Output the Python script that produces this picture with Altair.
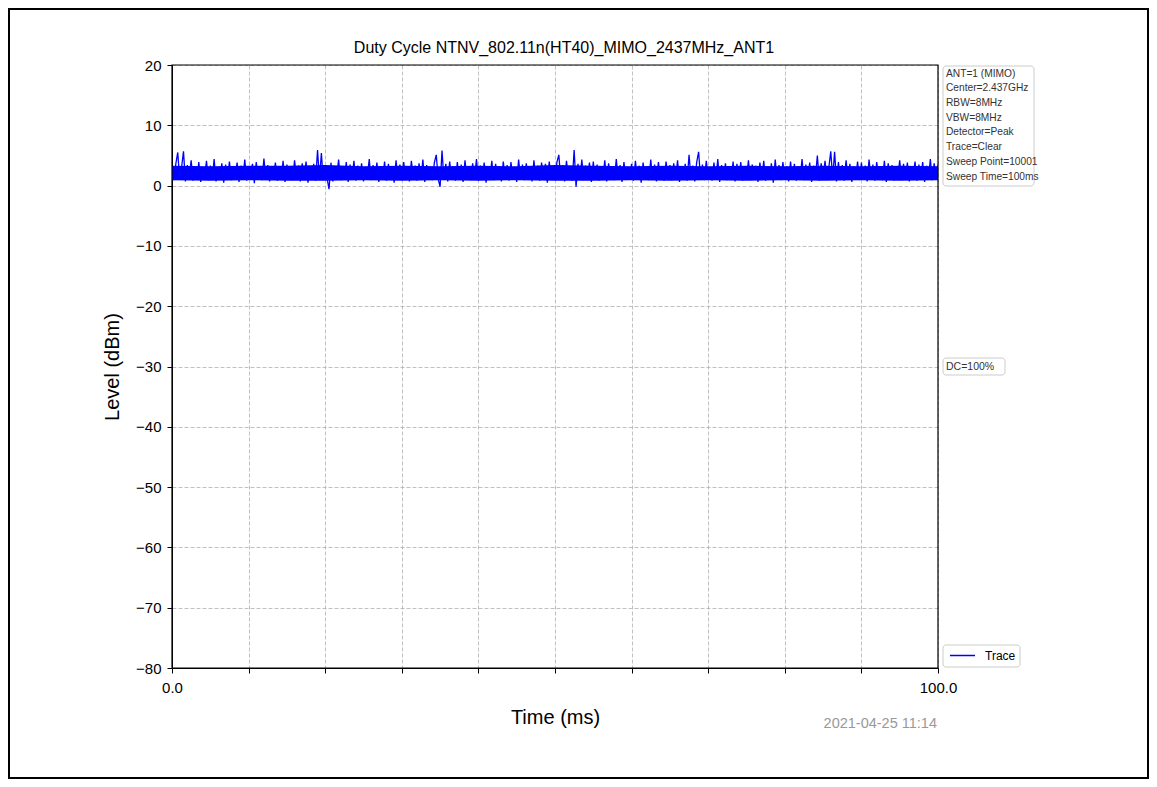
import altair as alt
import pandas as pd

# Trace samples (dBm), one every 0.25 ms from 0 to 100 ms
trace_level = [
    3.1, 0.9, 3.6, 5.5, 1.2, 3.0, 5.7, 0.7, 3.4, 1.5, 4.2, 0.8, 3.2, 1.1, 3.9, 0.6, 2.9, 1.4, 4.1, 0.9,
    3.3, 1.0, 4.4, 0.7, 3.0, 1.3, 3.7, 0.5, 3.5, 1.2, 4.0, 0.9, 2.8, 1.6, 3.8, 0.6, 3.3, 1.0, 4.3, 0.8,
    3.1, 1.2, 3.6, 0.4, 3.9, 1.1, 3.0, 0.9, 4.5, 1.3, 3.4, 0.7, 3.2, 1.5, 3.8, 0.8, 2.9, 1.0, 4.1, 0.6,
    3.5, 1.2, 3.0, 0.9, 4.2, 1.4, 3.3, 0.7, 3.7, 1.1, 4.0, 0.5, 3.1, 1.3, 3.6, 0.8, 5.9, 1.0, 5.4, 0.9,
    3.4, 1.2, -0.6, 3.8, 0.7, 3.2, 1.4, 4.3, 0.9, 3.0, 1.1, 3.9, 0.6, 3.5, 1.3, 4.1, 0.8, 3.3, 1.0, 3.7,
    0.7, 3.1, 1.5, 4.4, 0.9, 3.4, 1.2, 3.8, 0.6, 3.0, 1.1, 4.0, 0.8, 3.6, 1.3, 3.2, 0.5, 4.2, 1.0, 3.5,
    0.9, 3.9, 1.2, 3.1, 0.7, 4.1, 1.4, 3.3, 0.8, 3.7, 1.0, 4.3, 0.6, 3.4, 1.2, 3.0, 0.9, 3.8, 5.1, 1.1,
    -0.2, 5.8, 1.0, 3.6, 0.7, 4.0, 1.3, 3.2, 0.8, 3.9, 1.1, 3.5, 0.6, 4.2, 1.2, 3.1, 0.9, 3.7, 1.4, 4.4,
    0.8, 3.3, 1.0, 3.8, 0.5, 3.0, 1.2, 4.1, 0.9, 3.6, 1.3, 3.2, 0.7, 4.0, 1.1, 3.4, 0.8, 3.9, 1.0, 3.1,
    0.6, 4.3, 1.2, 3.5, 0.9, 3.7, 1.4, 3.0, 0.7, 4.2, 1.0, 3.3, 0.8, 3.8, 1.1, 3.6, 0.5, 4.0, 1.3, 3.2,
    0.9, 3.9, 5.1, 1.0, 3.4, 0.7, 4.1, 1.2, 3.1, 0.8, 5.9, -0.2, 3.6, 1.1, 4.3, 0.9, 3.3, 1.4, 3.8, 0.6,
    4.0, 1.0, 3.5, 0.8, 3.2, 1.3, 4.2, 0.7, 3.7, 1.1, 3.0, 0.9, 4.4, 1.2, 3.4, 0.6, 3.9, 1.0, 3.1, 1.4,
    3.6, 0.8, 4.1, 1.1, 3.3, 0.5, 3.8, 1.2, 3.0, 0.9, 4.3, 1.0, 3.5, 0.7, 3.9, 1.3, 3.2, 0.8, 4.0, 1.1,
    3.4, 0.9, 3.7, 1.2, 4.2, 0.6, 3.1, 1.0, 3.6, 0.8, 5.1, 1.3, 3.3, 0.7, 3.9, 5.6, 1.1, 3.5, 0.9, 4.1,
    1.2, 3.0, 0.8, 3.8, 1.0, 4.4, 0.6, 3.4, 1.3, 3.7, 0.9, 3.2, 1.1, 4.0, 0.7, 3.6, 1.2, 3.9, 0.8, 3.1,
    1.0, 4.2, 0.9, 3.5, 1.4, 3.3, 0.6, 3.8, 1.1, 4.1, 0.8, 3.0, 1.2, 3.7, 0.5, 4.3, 1.0, 3.4, 0.9, 3.9,
    1.3, 3.2, 0.7, 4.0, 1.1, 3.6, 0.8, 3.1, 1.2, 4.4, 0.9, 3.5, 1.0, 3.8, 0.6, 3.3, 1.4, 5.0, 0.8, 3.7,
    1.1, 4.1, 0.9, 3.0, 5.7, 1.2, 5.6, 0.7, 3.9, 1.0, 3.4, 0.8, 4.2, 1.3, 3.6, 0.6, 3.2, 1.1, 4.0, 0.9,
    3.8, 1.2, 3.3, 0.7, 4.3, 1.0, 3.5, 0.8, 3.9, 1.4, 3.1, 0.9, 4.1, 0.6, 3.7, 1.1, 3.4, 0.8, 3.0, 1.3,
    4.2, 0.9, 3.6, 1.0, 3.8, 0.7, 3.2, 1.2, 4.0, 0.8, 3.5, 1.1, 3.9, 0.6, 3.3, 1.0, 4.4, 0.9, 3.7, 1.2,
    3.4,
]
time_ms = [i * 0.25 for i in range(len(trace_level))]

# Dense core of the trace (the solid blue band), read every 5 ms
band_time = [0, 5, 10, 15, 20, 25, 30, 35, 40, 45, 50, 55, 60, 65, 70, 75, 80, 85, 90, 95, 100]
band_low = [0.9, 0.8, 0.9, 0.8, 0.8, 0.9, 0.8, 0.9, 0.8, 0.9, 0.8, 0.8, 0.9, 0.8, 0.9, 0.8, 0.9, 0.8, 0.9, 0.8, 0.9]
band_high = [3.3, 3.2, 3.3, 3.3, 3.4, 3.2, 3.3, 3.2, 3.3, 3.2, 3.4, 3.3, 3.2, 3.3, 3.2, 3.3, 3.2, 3.3, 3.2, 3.3, 3.2]

series_name = ["Trace"]

info_lines = [
    "ANT=1 (MIMO)",
    "Center=2.437GHz",
    "RBW=8MHz",
    "VBW=8MHz",
    "Detector=Peak",
    "Trace=Clear",
    "Sweep Point=10001",
    "Sweep Time=100ms",
]
dc_label = ["DC=100%"]
date_label = ["2021-04-25 11:14"]
chart_title = ["Duty Cycle NTNV_802.11n(HT40)_MIMO_2437MHz_ANT1"]
y_ticks = [-80, -70, -60, -50, -40, -30, -20, -10, 0, 10, 20]
x_ticks = [0, 10, 20, 30, 40, 50, 60, 70, 80, 90, 100]

FONT = "Liberation Sans"
BLUE = "#0000ff"
W, H = 766, 603

df = pd.DataFrame({"Time": time_ms, "Level": trace_level})
band_df = pd.DataFrame({"Time": band_time, "Low": band_low, "High": band_high})

x_scale = alt.Scale(domain=[0, 100], nice=False, zero=False)
y_scale = alt.Scale(domain=[-80, 20], nice=False, zero=False)
x_axis = alt.Axis(
    title="Time (ms)",
    values=x_ticks,
    labelExpr="datum.value == 0 || datum.value == 100 ? format(datum.value, '.1f') : ''",
    labelFlush=False,
    labelPadding=7,
    titlePadding=12,
)
y_axis = alt.Axis(
    title="Level (dBm)",
    values=y_ticks,
    labelPadding=6,
    titlePadding=13,
)

line = alt.Chart(df).mark_line(strokeWidth=1.3, color=BLUE, clip=True).encode(
    x=alt.X("Time:Q", scale=x_scale, axis=x_axis),
    y=alt.Y("Level:Q", scale=y_scale, axis=y_axis),
)

band = alt.Chart(band_df).mark_area(color=BLUE, opacity=1, clip=True).encode(
    x=alt.X("Time:Q", scale=x_scale, axis=x_axis),
    y=alt.Y("Low:Q", scale=y_scale, axis=y_axis),
    y2="High:Q",
)

trace_layer = alt.layer(line, band)

frame = alt.Chart(pd.DataFrame({"a": [0]})).mark_rect(
    fill=None, stroke="#000000", strokeWidth=1.2
).encode(x=alt.value(0), x2=alt.value(W), y=alt.value(0), y2=alt.value(H))

info_df = pd.DataFrame({"text": info_lines, "row": list(range(len(info_lines)))})
info_box = alt.Chart(pd.DataFrame({"a": [0]})).mark_rect(
    fill="#ffffff", stroke="#cccccc", strokeWidth=1, cornerRadius=3
).encode(x=alt.value(771), x2=alt.value(862), y=alt.value(1), y2=alt.value(121))
info_text = alt.Chart(info_df).mark_text(
    align="left", baseline="middle", font=FONT, fontSize=10.2, color="#333333"
).encode(
    x=alt.value(774),
    y=alt.Y("row:Q", scale=alt.Scale(domain=[0, 7], range=[8.5, 111.5]), axis=None),
    text="text:N",
)

dc_box = alt.Chart(pd.DataFrame({"a": [0]})).mark_rect(
    fill="#ffffff", stroke="#cccccc", strokeWidth=1, cornerRadius=3
).encode(x=alt.value(771), x2=alt.value(833), y=alt.value(293), y2=alt.value(310))
dc_text = alt.Chart(pd.DataFrame({"text": dc_label})).mark_text(
    align="left", baseline="middle", font=FONT, fontSize=10.5, color="#333333"
).encode(x=alt.value(774), y=alt.value(301.5), text="text:N")

# Legend (box, line sample, label)
legend_box = alt.Chart(pd.DataFrame({"a": [0]})).mark_rect(
    fill="#ffffff", stroke="#cccccc", strokeWidth=1, cornerRadius=3
).encode(x=alt.value(771), x2=alt.value(848), y=alt.value(580), y2=alt.value(602))
legend_line = alt.Chart(pd.DataFrame({"s": series_name})).mark_rule(
    color=BLUE, strokeWidth=1.5
).encode(x=alt.value(778), x2=alt.value(803), y=alt.value(590.5))
legend_text = alt.Chart(pd.DataFrame({"s": series_name})).mark_text(
    align="left", baseline="middle", font=FONT, fontSize=12, color="#000000"
).encode(x=alt.value(813), y=alt.value(591), text="s:N")

date_text = alt.Chart(pd.DataFrame({"text": date_label})).mark_text(
    align="right", baseline="middle", font=FONT, fontSize=14.5, color="#999999"
).encode(x=alt.value(765), y=alt.value(658.5), text="text:N")

title_text = alt.Chart(pd.DataFrame({"text": chart_title})).mark_text(
    align="center", baseline="middle", font=FONT, fontSize=16, color="#000000"
).encode(x=alt.value(W / 2 + 9), y=alt.value(-17), text="text:N")

border = alt.Chart(pd.DataFrame({"a": [0]})).mark_rect(
    fill=None, stroke="#000000", strokeWidth=2
).encode(x=alt.value(-163), x2=alt.value(976), y=alt.value(-56), y2=alt.value(713))

chart = alt.layer(
    trace_layer, frame, info_box, info_text, dc_box, dc_text,
    legend_box, legend_line, legend_text, date_text, title_text, border
).resolve_scale(y="independent").properties(
    width=W,
    height=H,
    background="#ffffff",
    autosize=alt.AutoSizeParams(type="none"),
    padding={"left": 164, "top": 57, "right": 211, "bottom": 111},
).configure_view(
    stroke=None
).configure_axis(
    labelFont=FONT,
    labelFontSize=15,
    labelColor="#000000",
    titleFont=FONT,
    titleFontSize=20,
    titleFontWeight="normal",
    titleColor="#000000",
    domainColor="#000000",
    domainWidth=1,
    tickColor="#000000",
    tickSize=5,
    tickWidth=1,
    gridColor="#b0b0b0",
    gridDash=[4, 2],
    gridWidth=0.8,
)

chart.save("out.html", embed_options={"renderer": "svg", "actions": False})
